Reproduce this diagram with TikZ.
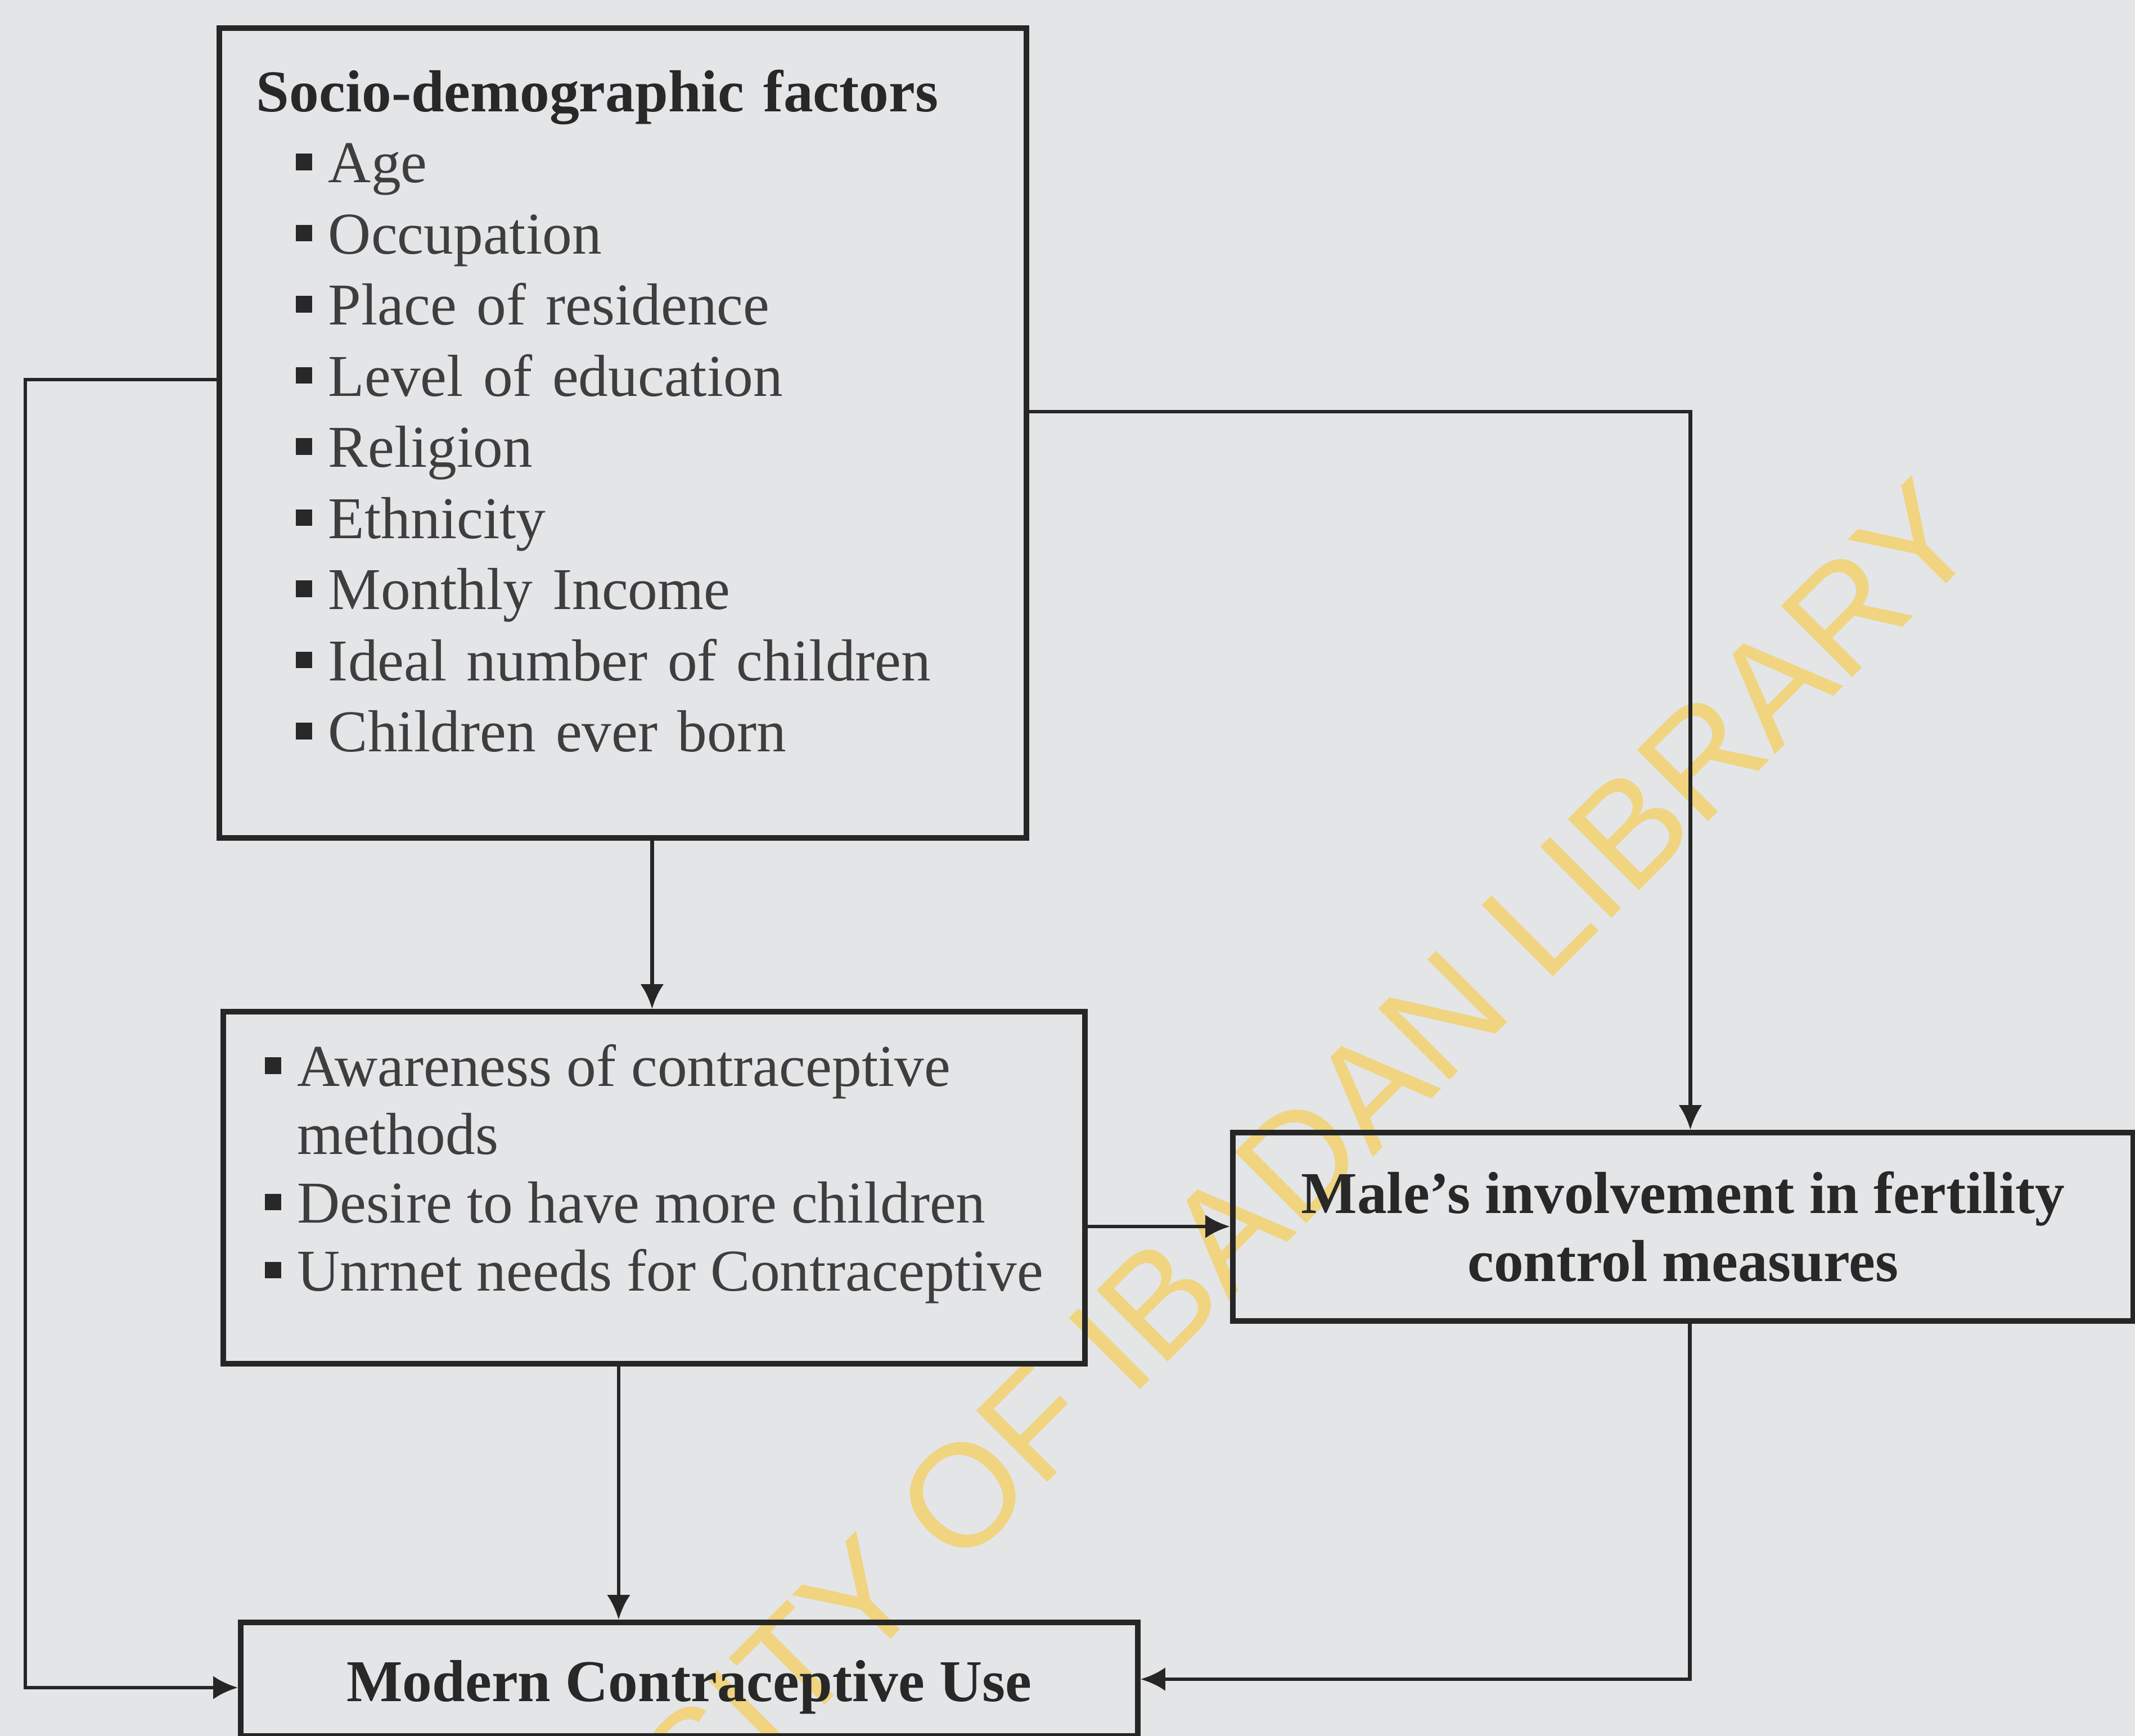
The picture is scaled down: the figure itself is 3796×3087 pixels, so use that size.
\documentclass[tikz,border=0pt]{standalone}
\usepackage{fontspec}
\setmainfont{Liberation Serif}
\newfontfamily\markfont{Liberation Sans}
\usetikzlibrary{arrows.meta}
\definecolor{paper}{RGB}{228,229,231}
\definecolor{ink}{RGB}{62,62,62}
\definecolor{darkink}{RGB}{40,40,40}
\definecolor{stamp}{RGB}{240,212,128}
\newcommand{\sqb}{{\color{darkink}\rule[0.21em]{0.28em}{0.28em}}\hspace{0.27em}}
\newcommand{\pad}[2]{\rule[-#2]{0pt}{\dimexpr#1+#2\relax}}

\begin{document}
\begin{tikzpicture}[
    x=0.1mm, y=-0.1mm,
    font=\fontsize{30}{36}\selectfont, text=ink,
    box/.style={draw=black!85, line width=2.8pt, inner sep=0pt, anchor=north west},
    head/.style={font=\bfseries\fontsize{30}{34.5}\selectfont, text=darkink},
    flow/.style={-{Latex[length=4.4mm, width=4.2mm]}, line width=1.9pt, draw=black!85}
]
\useasboundingbox (0,0) rectangle (3796,3087);
\fill[paper] (0,0) rectangle (3796,3087);
\node[text=stamp, font=\markfont\fontsize{74}{74}\selectfont, rotate=45, anchor=base] (stampmark)
     at (2040,2458) {UNIVERSITY OF IBADAN LIBRARY};

\node[box, minimum width=143.5mm, minimum height=144mm, text width=130.3mm, inner xsep=6.6mm, align=left] (socio)
     at (385,45) {\textbf{\color{darkink}Socio-demographic factors}\\
  \hspace*{7mm}\sqb Age\\
  \hspace*{7mm}\sqb Occupation\\
  \hspace*{7mm}\sqb Place of residence\\
  \hspace*{7mm}\sqb Level of education\\
  \hspace*{7mm}\sqb Religion\\
  \hspace*{7mm}\sqb Ethnicity\\
  \hspace*{7mm}\sqb Monthly Income\\
  \hspace*{7mm}\sqb Ideal number of children\\
  \hspace*{7mm}\sqb Children ever born\pad{0mm}{7.9mm}};
\node[box, minimum width=153.2mm, minimum height=62.6mm, align=left, font=\fontsize{30}{34.5}\selectfont] (aware)
     at (392,1794) {\sqb Awareness of contraceptive\\
  \hphantom{\sqb}methods\\
  \sqb Desire to have more children\\
  \sqb Unrnet needs for Contraceptive\pad{0mm}{7.1mm}};
\node[box, head, minimum width=160.1mm, minimum height=33.5mm, align=center] (male)
     at (2187,2009) {Male’s involvement in fertility\\control measures};
\node[box, head, minimum width=159.5mm, minimum height=20.2mm] (use)
     at (423,2880) {\pad{10.2mm}{0mm}Modern Contraceptive Use};

\foreach \a/\b/\s in {socio/aware/5.2mm, aware/use/-6.3mm}{\draw[flow] ([xshift=\s]\a.south) coordinate (p) -- (p |- \b.north);}
\draw[flow] ([yshift=-6.9mm]aware.east) coordinate (q) -- (q -| male.west);
\draw[flow] ([yshift=3.8mm]socio.east) -| ([xshift=1.3mm]male.north);
\draw[flow] ([xshift=1.2mm]male.south) |- (use.east);
\draw[flow] ([yshift=9.5mm]socio.west) -- ++(-34mm,0) |- ([yshift=-1.5mm]use.west);
\end{tikzpicture}
\end{document}
